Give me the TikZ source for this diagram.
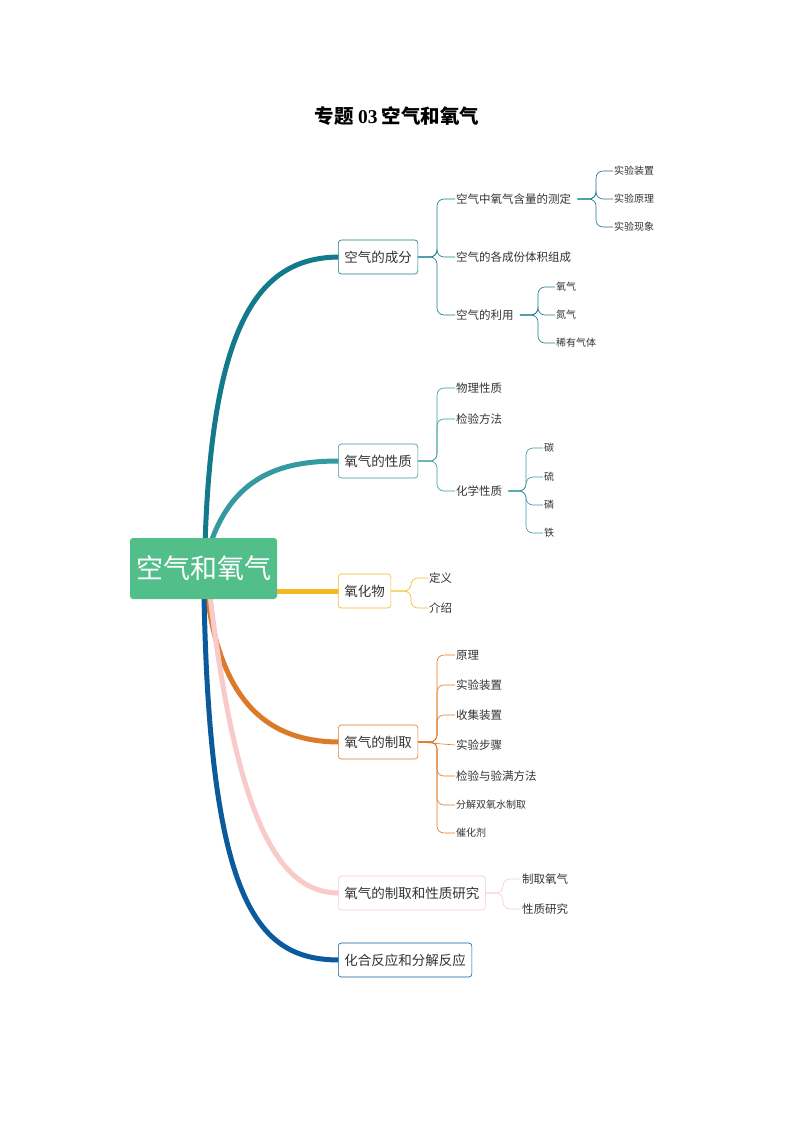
\documentclass[tikz,border=0pt]{standalone}
\usepackage{fontspec}
\setmainfont{Noto Sans CJK SC}
\newfontfamily\titlefont{Liberation Serif}
\definecolor{cA}{HTML}{137A8C}
\definecolor{cB}{HTML}{3599A0}
\definecolor{cC}{HTML}{F5B820}
\definecolor{cD}{HTML}{DD7A2A}
\definecolor{cE}{HTML}{F8CACA}
\definecolor{cF}{HTML}{0B5A9C}
\definecolor{root}{HTML}{52BE8A}
\definecolor{txt}{HTML}{333333}
\begin{document}
\begin{tikzpicture}[x=1pt,y=-1pt,
  br/.style={draw=#1,rounded corners=3pt,line width=0.6pt,fill=white,text=txt,font=\fontsize{13.5}{13.5}\selectfont,minimum height=34pt,inner xsep=6pt,anchor=west},
  ch/.style={anchor=west,text=txt,inner sep=1pt,font=\fontsize{11.5}{11.5}\selectfont},
  gc/.style={anchor=west,text=txt,inner sep=1pt,font=\fontsize{10}{10}\selectfont},
  thick1/.style={line width=5pt,draw=#1,line cap=round},
  thin1/.style={draw=#1,line width=0.6pt,rounded corners=7pt}]
\useasboundingbox (0,0) rectangle (793,1123);
\node (title) at (397,116) {\fontsize{19.5}{19.5}\selectfont\bfseries 专题 {\titlefont 03} 空气和氧气};
% branches curves
\draw[thick1=cA] (205,545) .. controls (212,320) and (260,257) .. (340,257);
\draw[thick1=cB] (210,545) .. controls (235,470) and (290,461) .. (340,461);
\draw[thick1=cC] (270,591) -- (340,591);
\draw[thick1=cD] (207,595) .. controls (222,705) and (270,742) .. (340,742);
\draw[thick1=cE] (210,595) .. controls (240,850) and (290,893) .. (340,893);
\draw[thick1=cF] (204,595) .. controls (210,910) and (260,960) .. (340,960);
\node[fill=root,rounded corners=3pt,minimum width=147pt,minimum height=61pt,text=white,font=\fontsize{27}{27}\selectfont] (r) at (203.5,568.5) {空气和氧气};
\node[br=cA] (b1) at (338,257) {空气的成分};
\node[br=cB] (b2) at (338,461) {氧气的性质};
\node[br=cC] (b3) at (338,591) {氧化物};
\node[br=cD] (b4) at (338,742) {氧气的制取};
\node[br=cE] (b5) at (338,893) {氧气的制取和性质研究};
\node[br=cF] (b6) at (338,960) {化合反应和分解反应};
% branch1 children
\node[ch] (a1) at (455,199) {空气中氧气含量的测定};
\node[ch] (a2) at (455,257) {空气的各成份体积组成};
\node[ch] (a3) at (455,315) {空气的利用};
\foreach \n in {a1,a2,a3} \draw[thin1=cA] (b1.east) -- (437,257) -- (437,257 |- \n.west) -- (\n.west);
\node[gc] (a11) at (613,171) {实验装置};
\node[gc] (a12) at (613,199) {实验原理};
\node[gc] (a13) at (613,227) {实验现象};
\foreach \n in {a11,a12,a13} \draw[thin1=cA] (a1.east) ++(5,0) -- (596,199) -- (596,199 |- \n.west) -- (\n.west);
\node[gc] (a31) at (555,287) {氧气};
\node[gc] (a32) at (555,315) {氮气};
\node[gc] (a33) at (555,343) {稀有气体};
\foreach \n in {a31,a32,a33} \draw[thin1=cA] (a3.east) ++(5,0) -- (538,315) -- (538,315 |- \n.west) -- (\n.west);
% branch2
\node[ch] (p1) at (455,388) {物理性质};
\node[ch] (p2) at (455,419) {检验方法};
\node[ch] (p3) at (455,491) {化学性质};
\foreach \n in {p1,p2,p3} \draw[thin1=cB] (b2.east) -- (437,461) -- (437,461 |- \n.west) -- (\n.west);
\node[gc] (p31) at (543,448) {碳};
\node[gc] (p32) at (543,477) {硫};
\node[gc] (p33) at (543,505) {磷};
\node[gc] (p34) at (543,533) {铁};
\foreach \n in {p31,p32,p33,p34} \draw[thin1=cB] (p3.east) ++(5,0) -- (526,491) -- (526,491 |- \n.west) -- (\n.west);
% branch3
\node[ch] (o1) at (428,578) {定义};
\node[ch] (o2) at (428,608) {介绍};
\foreach \n in {o1,o2} \draw[thin1=cC] (b3.east) -- (411,591) -- (411,591 |- \n.west) -- (\n.west);
% branch4
\node[ch] (m1) at (455,655) {原理};
\node[ch] (m2) at (455,685) {实验装置};
\node[ch] (m3) at (455,715) {收集装置};
\node[ch] (m4) at (455,745) {实验步骤};
\node[ch] (m5) at (455,776) {检验与验满方法};
\node[gc] (m6) at (455,805) {分解双氧水制取};
\node[gc] (m7) at (455,833) {催化剂};
\foreach \n in {m1,m2,m3,m5,m6,m7} \draw[thin1=cD] (b4.east) -- (437,742) -- (437,742 |- \n.west) -- (\n.west);
\draw[thin1=cD] (b4.east) -- (m4.west);
% branch5
\node[ch] (s1) at (521,879) {制取氧气};
\node[ch] (s2) at (521,909) {性质研究};
\foreach \n in {s1,s2} \draw[thin1=cE] (b5.east) -- (503,893) -- (503,893 |- \n.west) -- (\n.west);
\end{tikzpicture}
\end{document}
